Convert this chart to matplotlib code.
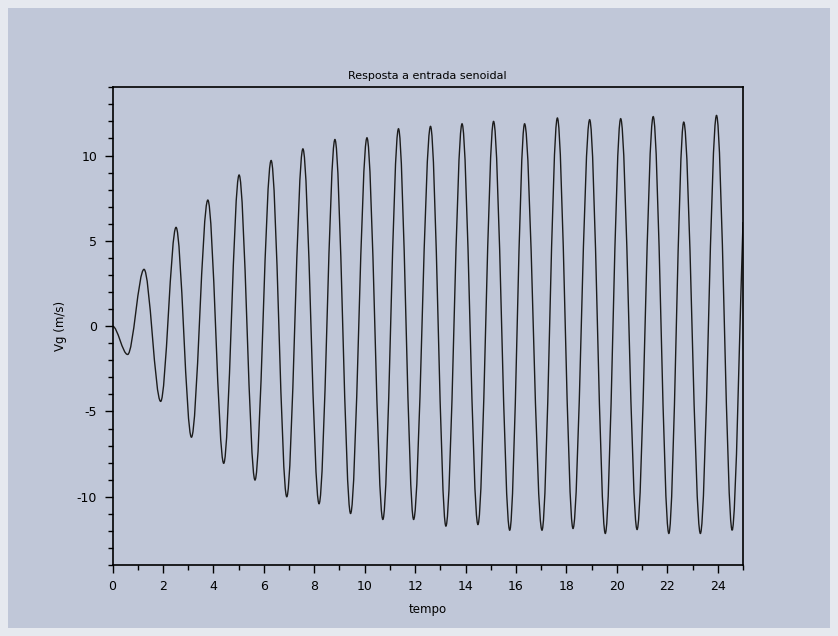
#resposta do sistema a uma entrada senoidal (Vg x tempo)

import numpy as np
import matplotlib
matplotlib.use("Agg")
import matplotlib.pyplot as plt
from matplotlib.ticker import MultipleLocator
from matplotlib.patches import Rectangle, PathPatch
from matplotlib.path import Path

plt.rcParams["axes.unicode_minus"] = False

# inicio da curva
start_t = [0.0]
start_v = [0.0]

# picos (tempo, valor)
peak_t = [1.25, 2.52, 3.78, 5.02, 6.29, 7.55, 8.82, 10.09, 11.34, 12.61,
          13.86, 15.11, 16.34, 17.64, 18.92, 20.15, 21.44, 22.65, 23.95]
peak_v = [3.33, 5.79, 7.39, 8.86, 9.71, 10.39, 10.94, 11.04, 11.57, 11.71,
          11.86, 12.0, 11.86, 12.2, 12.1, 12.16, 12.28, 11.96, 12.35]

# vales (tempo, valor)
trough_t = [0.60, 1.91, 3.13, 4.41, 5.65, 6.91, 8.19, 9.44, 10.72, 11.94,
            13.22, 14.49, 15.75, 17.03, 18.26, 19.54, 20.80, 22.06, 23.31, 24.57]
trough_v = [-1.66, -4.41, -6.51, -8.04, -9.02, -10.0, -10.41, -10.98, -11.33, -11.33,
            -11.72, -11.63, -11.96, -11.96, -11.86, -12.15, -11.92, -12.15, -12.15, -11.96]

# ultimo ponto (curva subindo na borda direita)
end_t = [25.0]
end_v = [6.1]

BG = "#c0c7d8"
BORDER = "#e6e9ef"
K = 0.34  #suavizacao entre picos e vales (tangente horizontal nos extremos)

#junta tudo em ordem de tempo
t = np.array(start_t + peak_t + trough_t + end_t)
v = np.array(start_v + peak_v + trough_v + end_v)
order = np.argsort(t)
t = t[order]
v = v[order]

#curva suave entre os extremos (bezier com tangente horizontal)
verts = [(t[0], v[0])]
codes = [Path.MOVETO]
for i in range(1, len(t)):
    dt = t[i] - t[i-1]
    c1 = (t[i-1] + K*dt, v[i-1])
    if i == len(t) - 1:
        c2 = (t[i] - 0.25*dt, v[i] - 0.25*(v[i]-v[i-1]))
    else:
        c2 = (t[i] - K*dt, v[i])
    verts += [c1, c2, (t[i], v[i])]
    codes += [Path.CURVE4]*3

fig = plt.figure(figsize=(8.38, 6.36), dpi=100, facecolor=BORDER)
fig.patches.append(Rectangle((8/838, 8/636), 1-16/838, 1-16/636, transform=fig.transFigure,
                             facecolor=BG, edgecolor="none", zorder=-10))

ax = fig.add_axes([112.5/838, 71/636, 630.5/838, 477.7/636])
ax.set_facecolor(BG)
curve = PathPatch(Path(verts, codes), facecolor="none", edgecolor="#1c1c1c", lw=1.0)
ax.add_patch(curve)

ax.set_xlim(0, 25)
ax.set_ylim(-14, 14)
ax.xaxis.set_major_locator(MultipleLocator(2))
ax.xaxis.set_minor_locator(MultipleLocator(1))
ax.yaxis.set_major_locator(MultipleLocator(5))
ax.yaxis.set_minor_locator(MultipleLocator(1))
ax.tick_params(which="major", direction="out", length=6, width=1, labelsize=9, pad=5, colors="black")
ax.tick_params(which="minor", direction="out", length=3.5, width=1)
for s in ax.spines.values():
    s.set_linewidth(1.2)
    s.set_color("black")

ax.set_title("Resposta a entrada senoidal", fontsize=8, pad=6)
ax.set_xlabel("tempo", fontsize=8.5, labelpad=7)
ax.set_ylabel("Vg (m/s)", fontsize=8.5, labelpad=7)

fig.savefig("out.png", dpi=100, facecolor=fig.get_facecolor())
